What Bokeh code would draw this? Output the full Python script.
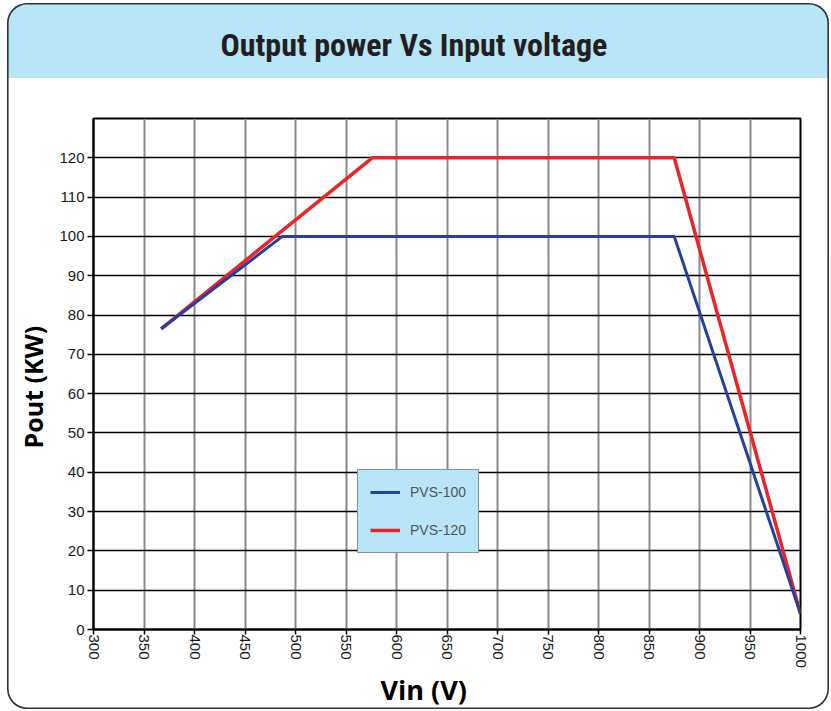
import math
from bokeh.plotting import figure
from bokeh.models import Range1d, FixedTicker, Legend, LegendItem, Title
from bokeh.embed import file_html
from bokeh.resources import INLINE

# ---- data ----
vin_100 = [367, 487, 875, 1000]
pout_100 = [76.5, 100, 100, 4]
vin_120 = [367, 576, 875, 1000]
pout_120 = [76.5, 120, 120, 4]
x_ticks = list(range(300, 1001, 50))
y_ticks = list(range(0, 121, 10))
y_grid = list(range(0, 131, 10))
series_names = ["PVS-100", "PVS-120"]
title_text = "Output power Vs Input voltage"
x_label = "Vin (V)"
y_label = "Pout (KW)"

# ---- layout ----
W, H = 822, 706
FL, FT, FW, FH = 86, 115, 707, 511

p = figure(width=W, height=H, output_backend="svg", toolbar_location=None,
           x_range=Range1d(300, 1000), y_range=Range1d(0, 130),
           min_border_left=FL, min_border_right=W - FL - FW,
           min_border_top=FT, min_border_bottom=H - FT - FH)
p.margin = (3, 0, 0, 7)
p.styles = {
    "background": "linear-gradient(to bottom, #b8e5f8 0px, #b8e5f8 75px, #ffffff 75px)",
    "border-radius": "20px",
    "box-shadow": "inset 0 0 0 1.6px #333333",
}
p.border_fill_alpha = 0
p.background_fill_color = "white"
p.outline_line_color = "black"
p.outline_line_width = 2

# grids
p.xgrid.ticker = FixedTicker(ticks=x_ticks)
p.ygrid.ticker = FixedTicker(ticks=y_grid)
p.xgrid.grid_line_color = "#8a8a8a"
p.xgrid.grid_line_width = 2
p.ygrid.grid_line_color = "black"
p.ygrid.grid_line_width = 1.6

# axes
tick_font = "Liberation Sans"
for ax in (p.xaxis[0], p.yaxis[0]):
    ax.axis_line_color = "black"
    ax.axis_line_width = 2
    ax.major_tick_line_color = "black"
    ax.major_tick_line_width = 1.5
    ax.major_tick_in = 0
    ax.minor_tick_line_color = None
    ax.major_label_text_font = tick_font
    ax.major_label_text_font_size = "15px"
    ax.major_label_text_color = "#1a1a1a"

p.xaxis.ticker = FixedTicker(ticks=x_ticks)
p.xaxis.major_tick_out = 5
p.xaxis.major_label_standoff = 0
p.xaxis.major_label_orientation = -math.pi / 2

p.yaxis.ticker = FixedTicker(ticks=y_ticks)
p.yaxis.major_tick_out = 6
p.yaxis.major_label_standoff = 3

# small white spacer title between the frame and the main title
spacer = Title(text=".", text_font_size="8px", standoff=48,
               text_color="white")
p.add_layout(spacer, "above")
p.add_layout(Title(text=title_text, align="left", offset=127, standoff=0,
                   vertical_align="bottom",
                   text_font="'Roboto Condensed', Roboto",
                   text_font_style="bold", text_font_size="32px",
                   text_color="#231f20"), "above")
p.add_layout(Title(text=y_label, align="left", offset=181, standoff=13,
                   vertical_align="bottom", text_font="Open Sans",
                   text_font_style="bold", text_font_size="25px",
                   text_color="black"), "left")
p.add_layout(Title(text=x_label, align="left", offset=287, standoff=0,
                   vertical_align="top", text_font="Open Sans",
                   text_font_style="bold", text_font_size="27px",
                   text_color="black"), "below")

# series
r120 = p.line(vin_120, pout_120, line_color="#ec2329", line_width=3.5)
r100 = p.line(vin_100, pout_100, line_color="#27409a", line_width=3)

legend = Legend(items=[LegendItem(label=series_names[0], renderers=[r100]),
                       LegendItem(label=series_names[1], renderers=[r120])],
                location=(264, 76), margin=0,
                background_fill_color="#b8e5f8", background_fill_alpha=1,
                border_line_color="#444444", border_line_width=1,
                glyph_width=30, glyph_height=20, label_height=20,
                label_standoff=10, padding=12, spacing=18,
                label_text_font=tick_font, label_text_font_size="14px",
                label_text_color="#555555")
p.add_layout(legend)

open("out.html", "w").write(file_html(p, INLINE))
